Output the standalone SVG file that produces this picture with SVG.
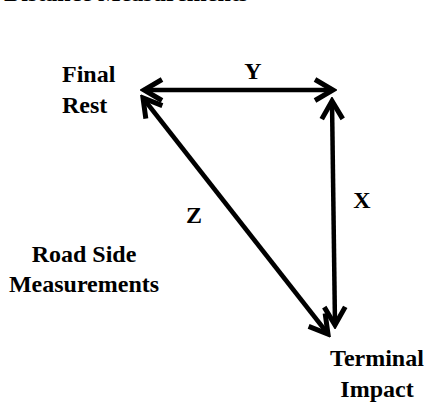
<svg xmlns="http://www.w3.org/2000/svg" width="432" height="407" viewBox="0 0 432 407">
<style>
text{font-family:"Liberation Serif","Times New Roman",serif;font-weight:bold;font-size:24px;fill:#000}
.c{stroke:#000;stroke-width:4.5;fill:none}
</style>
<defs>
<marker id="ah" markerUnits="userSpaceOnUse" viewBox="-24 -15 28 30" refX="0" refY="0" markerWidth="28" markerHeight="30" orient="auto-start-reverse">
<path d="M -18 -10.5 L 0 0 L -18 10.5" fill="none" stroke="#000" stroke-width="5" stroke-linejoin="miter"/>
</marker>
</defs>
<rect width="432" height="407" fill="#fff"/>
<text x="4" y="1" font-size="25">Distance Measurements</text>
<g id="final-rest"><text x="62" y="82">Final</text><text x="62" y="113">Rest</text></g>
<g id="terminal-impact"><text x="377" y="366" text-anchor="middle">Terminal</text><text x="377" y="397" text-anchor="middle">Impact</text></g>
<g id="road-side"><text x="84" y="262" text-anchor="middle">Road Side</text><text x="84" y="292" text-anchor="middle">Measurements</text></g>
<g id="connectors">
<line class="c" x1="144" y1="90" x2="333" y2="90" marker-start="url(#ah)" marker-end="url(#ah)"/>
<line class="c" x1="332" y1="101" x2="335" y2="325" marker-start="url(#ah)" marker-end="url(#ah)"/>
<line class="c" x1="143" y1="98" x2="328" y2="334" marker-start="url(#ah)" marker-end="url(#ah)"/>
<text x="253" y="79" text-anchor="middle">Y</text>
<text x="362" y="208" text-anchor="middle">X</text>
<text x="194" y="223" text-anchor="middle">Z</text>
</g>
</svg>
